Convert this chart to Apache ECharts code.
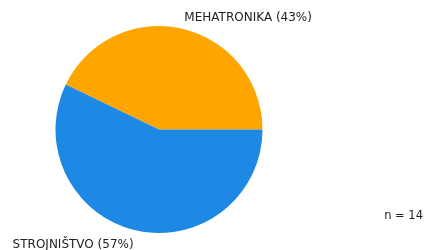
<!DOCTYPE html>
<html>
<head>
<meta charset="utf-8">
<script src="https://cdn.jsdelivr.net/npm/echarts@6/dist/echarts.min.js"></script>
<style>
  html, body { margin: 0; padding: 0; background: #fff; }
  #pie { width: 425px; height: 250px; }
</style>
</head>
<body>
<div id="pie"></div>
<script>
  // data (n = 14)
  const categories = ['MEHATRONIKA', 'STROJNIŠTVO'];
  const counts = [6, 8];
  const colors = ['#FFA500', '#1E88E5'];
  const total = counts.reduce((a, b) => a + b, 0);

  const chart = echarts.init(document.getElementById('pie'));

  const option = {
    animation: false,
    color: colors,
    textStyle: { fontFamily: 'DejaVu Sans' },
    series: [{
      type: 'pie',
      center: [159, 129.5],
      radius: 103.5,
      startAngle: 0,
      clockwise: false,
      avoidLabelOverlap: false,
      label: {
        show: true,
        position: 'outside',
        distanceToLabelLine: 0,
        color: '#222',
        fontSize: 12,
        fontFamily: 'DejaVu Sans',
        formatter: p => p.name + ' (' + Math.round(p.percent) + '%)'
      },
      labelLine: { show: false, length: 10.5, length2: 0 },
      // lower label sits a little lower in the reference
      labelLayout: p => (p.dataIndex === 1 ? { dy: 4 } : {}),
      emphasis: { disabled: true },
      data: categories.map((c, i) => ({ name: c, value: counts[i] }))
    }],
    graphic: [{
      type: 'text',
      right: 2,
      top: 210,
      style: {
        text: 'n = ' + total,
        fill: '#222',
        fontSize: 11.5,
        fontFamily: 'DejaVu Sans'
      }
    }]
  };
  chart.setOption(option);
</script>
</body>
</html>
